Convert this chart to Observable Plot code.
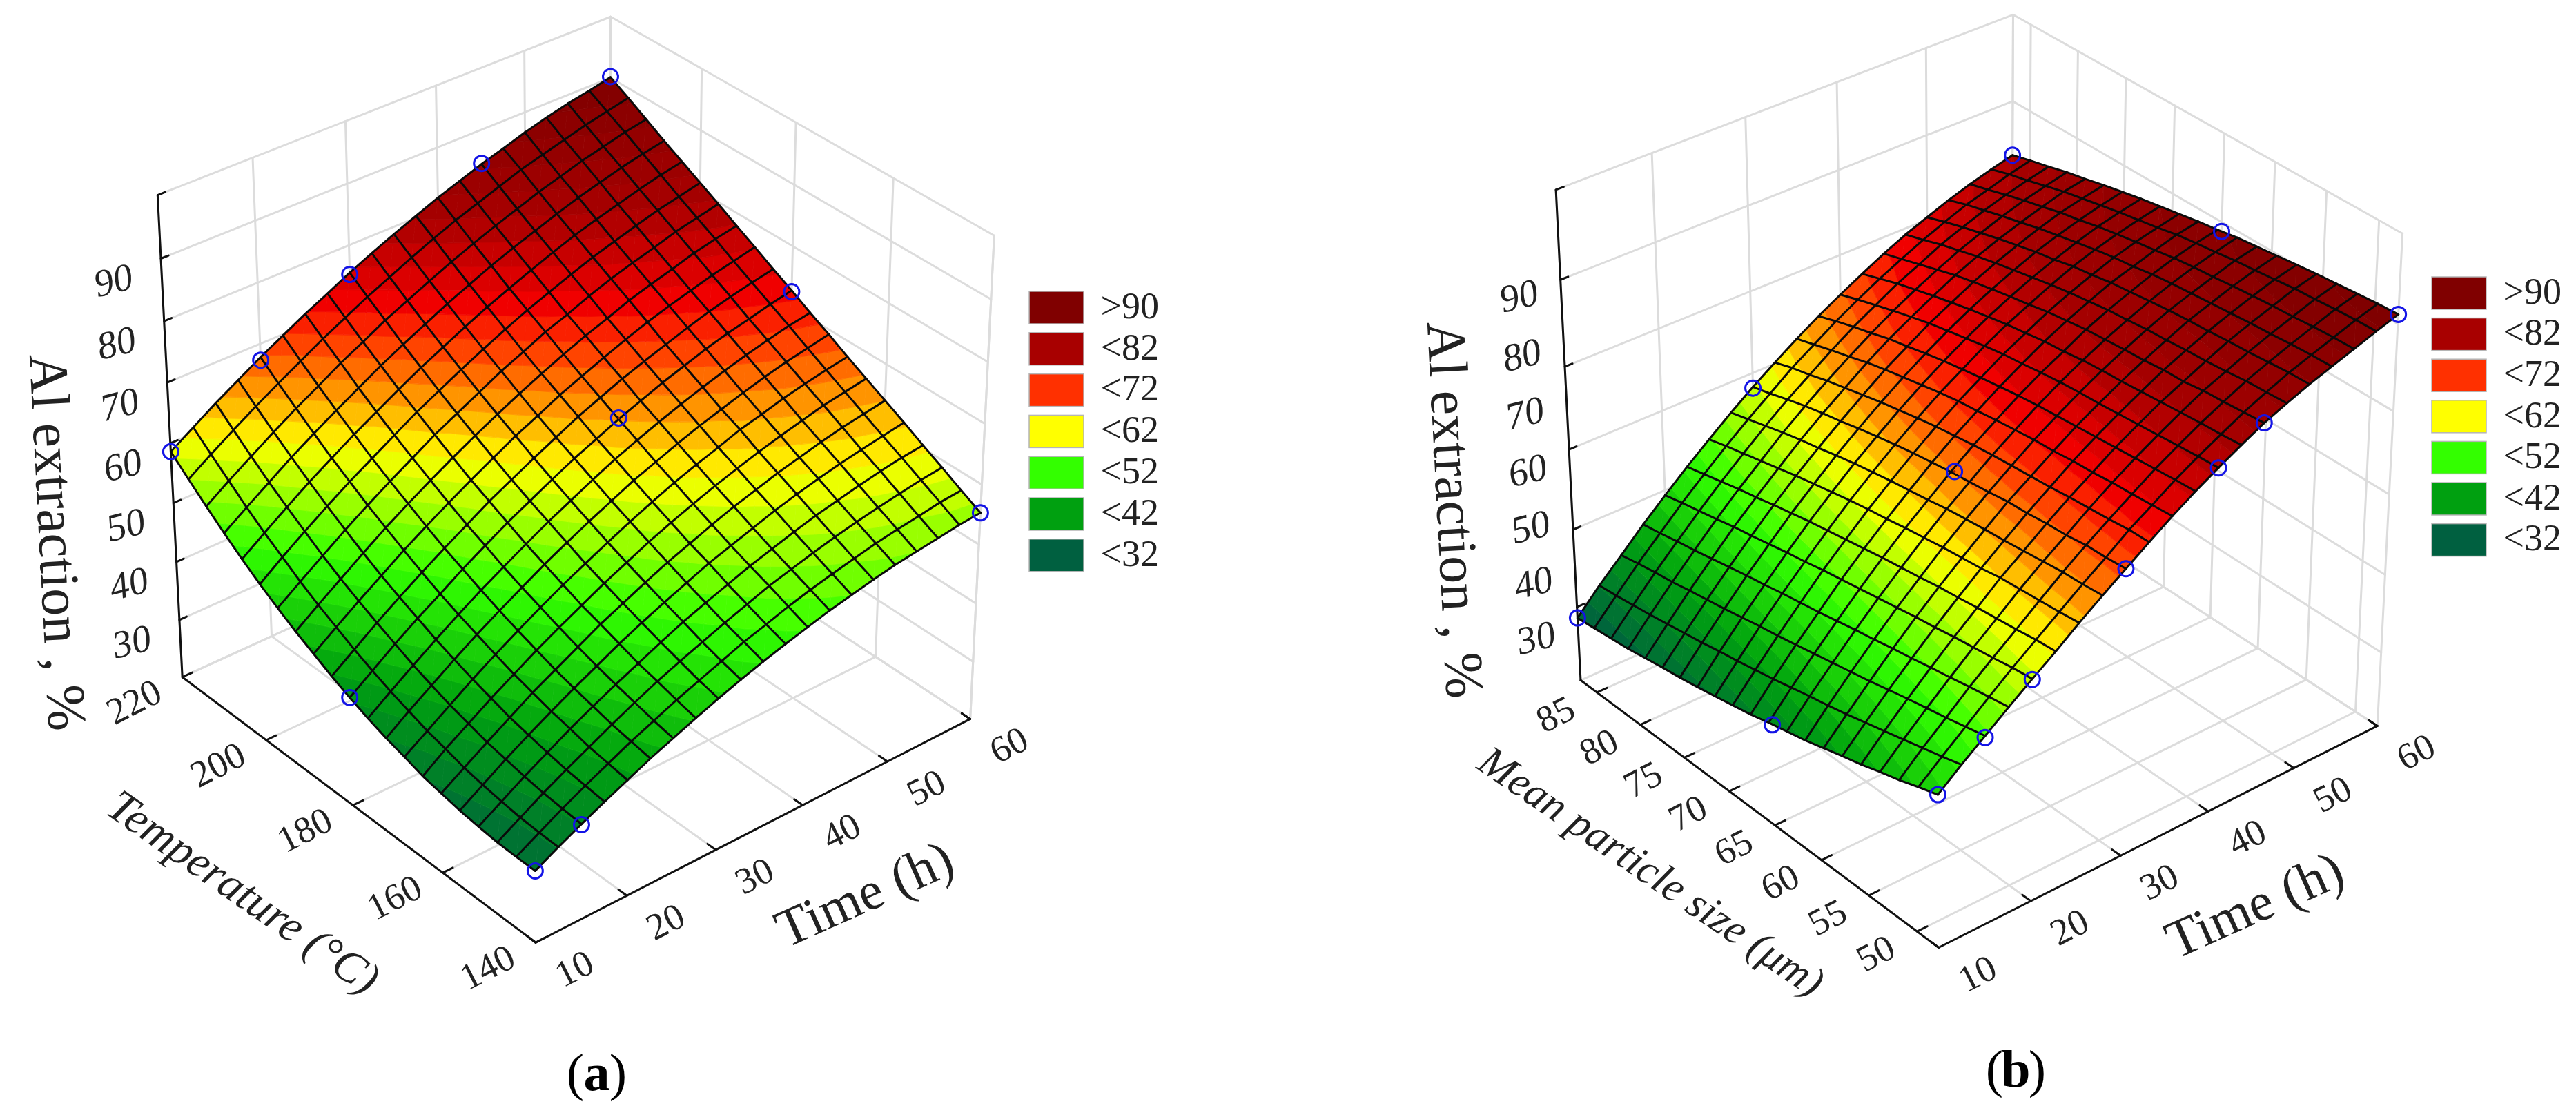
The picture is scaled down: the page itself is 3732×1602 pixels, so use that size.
<!DOCTYPE html>
<html>
<head>
<meta charset="utf-8">
<script src="https://cdn.jsdelivr.net/npm/d3@7"></script>
<script src="https://cdn.jsdelivr.net/npm/@observablehq/plot@0.6"></script>
<style>html,body{margin:0;padding:0;background:#fff}svg{display:block;max-width:none}</style>
</head>
<body>
<div id="chart"></div>
<script>
// ---------- values ----------
const timeTicks = [10, 20, 30, 40, 50, 60];
const temperatureTicks = [140, 160, 180, 200, 220];
const particleTicks = [50, 55, 60, 65, 70, 75, 80, 85];
const extractionTicksA = [30, 40, 50, 60, 70, 80, 90];
const extractionGridA = [30, 40, 50, 60, 70, 80, 90];
const extractionTicksB = [30, 40, 50, 60, 70, 80, 90];
const extractionGridB = [32, 46, 60.2, 74.6, 89.4];
const legendLabels = [">90", "<82", "<72", "<62", "<52", "<42", "<32"];
const legendColors = ["#800000", "#a80000", "#ff3000", "#ffff00", "#33ff00", "#00a010", "#006040"];

// surface (a): one row per time step (10..60 h), one value per temperature step (140..220 C)
const surfaceA = [
[32.1,32.1,32.2,32.5,32.9,33.5,34.1,35.1,36.0,37.1,38.4,39.8,41.4,43.0,44.8,46.7,48.8,51.1,53.5,56.0,58.6],
[34.1,34.2,34.4,34.8,35.3,35.9,36.8,37.6,38.7,39.8,41.1,42.5,44.1,45.7,47.5,49.5,51.5,53.7,56.1,58.5,61.0],
[36.0,36.3,36.6,37.1,37.7,38.3,39.2,40.1,41.2,42.4,43.8,45.2,46.7,48.3,50.1,52.1,54.1,56.2,58.5,60.9,63.4],
[37.8,38.2,38.6,39.2,39.9,40.6,41.6,42.6,43.7,44.9,46.3,47.7,49.2,50.9,52.7,54.6,56.6,58.7,60.9,63.2,65.6],
[39.5,40.0,40.5,41.3,42.0,42.9,43.8,44.9,46.1,47.3,48.6,50.1,51.7,53.4,55.1,57.0,58.9,61.0,63.2,65.4,67.8],
[41.2,41.8,42.4,43.2,44.0,44.9,46.0,47.1,48.3,49.6,51.0,52.4,54.0,55.7,57.4,59.2,61.2,63.2,65.3,67.5,69.8],
[42.7,43.4,44.2,45.0,45.9,46.9,48.0,49.2,50.4,51.7,53.2,54.6,56.2,57.9,59.6,61.4,63.3,65.3,67.5,69.6,71.8],
[44.2,45.0,45.9,46.7,47.8,48.9,49.9,51.2,52.5,53.8,55.3,56.8,58.3,60.0,61.8,63.6,65.4,67.4,69.4,71.5,73.6],
[45.6,46.4,47.4,48.4,49.5,50.6,51.8,53.0,54.4,55.8,57.2,58.7,60.3,62.0,63.7,65.5,67.4,69.3,71.4,73.4,75.5],
[46.9,47.8,48.8,50.0,51.1,52.3,53.5,54.8,56.2,57.6,59.1,60.6,62.3,63.9,65.6,67.4,69.2,71.1,73.1,75.1,77.2],
[48.1,49.2,50.2,51.4,52.6,53.9,55.2,56.5,57.9,59.4,60.9,62.4,64.0,65.7,67.5,69.2,71.0,72.9,74.8,76.8,78.8],
[49.2,50.3,51.5,52.7,54.1,55.3,56.7,58.1,59.6,61.1,62.5,64.2,65.8,67.4,69.1,70.9,72.7,74.5,76.4,78.4,80.3],
[50.2,51.5,52.8,54.0,55.3,56.7,58.1,59.6,61.0,62.6,64.1,65.7,67.3,69.0,70.8,72.5,74.2,76.1,77.9,79.9,81.8],
[51.2,52.5,53.8,55.1,56.5,58.0,59.4,60.9,62.4,64.0,65.5,67.2,68.8,70.5,72.1,73.9,75.7,77.5,79.3,81.2,83.1],
[52.0,53.4,54.8,56.2,57.7,59.1,60.6,62.1,63.7,65.3,66.9,68.5,70.2,71.8,73.6,75.3,77.1,78.8,80.6,82.5,84.4],
[52.8,54.2,55.7,57.2,58.7,60.2,61.7,63.4,64.8,66.5,68.1,69.7,71.5,73.2,74.9,76.6,78.4,80.1,81.9,83.8,85.5],
[53.5,55.0,56.5,58.0,59.6,61.1,62.7,64.3,65.9,67.6,69.3,70.9,72.6,74.3,76.0,77.7,79.5,81.3,83.0,84.8,86.7],
[54.0,55.6,57.2,58.8,60.4,62.0,63.6,65.3,66.9,68.6,70.3,72.0,73.6,75.3,77.0,78.8,80.5,82.3,84.1,85.8,87.7],
[54.5,56.1,57.8,59.5,61.1,62.8,64.5,66.1,67.8,69.5,71.1,72.9,74.6,76.4,78.1,79.8,81.5,83.3,85.0,86.8,88.6],
[55.0,56.7,58.4,60.1,61.7,63.4,65.1,66.8,68.5,70.3,72.0,73.7,75.4,77.2,78.9,80.6,82.4,84.1,85.9,87.6,89.3],
[55.3,57.0,58.8,60.5,62.3,64.0,65.7,67.4,69.2,70.9,72.7,74.4,76.2,77.9,79.7,81.4,83.1,84.8,86.6,88.4,90.1]
];

// surface (b): one row per time step (10..60 h), one value per particle-size step (48..87 um)
const surfaceB = [
[45.4,44.3,43.1,42.1,41.0,40.1,39.1,38.1,37.3,36.5,35.6,34.9,34.2,33.5,32.9,32.4,31.8,31.2,30.8,30.4,30.0],
[48.6,47.6,46.7,45.8,44.9,44.0,43.1,42.3,41.6,40.8,40.0,39.3,38.6,38.0,37.3,36.7,36.1,35.5,35.0,34.5,34.1],
[51.6,50.8,50.0,49.3,48.6,47.8,47.0,46.3,45.6,44.9,44.2,43.5,42.9,42.2,41.5,40.9,40.3,39.6,39.1,38.5,37.8],
[54.6,54.0,53.4,52.7,52.1,51.4,50.8,50.1,49.5,48.8,48.1,47.5,46.9,46.2,45.6,44.9,44.2,43.5,42.9,42.2,41.6],
[57.5,57.1,56.5,56.0,55.5,54.9,54.4,53.8,53.2,52.6,52.0,51.4,50.7,50.1,49.4,48.7,48.1,47.3,46.6,45.9,45.1],
[60.3,60.0,59.5,59.1,58.7,58.2,57.8,57.2,56.7,56.2,55.6,55.0,54.4,53.8,53.1,52.4,51.6,50.9,50.1,49.3,48.5],
[63.3,62.9,62.6,62.3,62.0,61.4,61.0,60.6,60.1,59.6,59.0,58.5,57.9,57.2,56.5,55.8,55.0,54.2,53.4,52.6,51.7],
[66.1,65.8,65.6,65.2,64.8,64.4,64.1,63.7,63.3,62.7,62.2,61.7,61.1,60.5,59.8,59.0,58.3,57.5,56.6,55.7,54.8],
[68.8,68.5,68.4,67.9,67.7,67.3,67.1,66.6,66.2,65.8,65.3,64.8,64.2,63.5,62.8,62.0,61.3,60.5,59.6,58.6,57.7],
[71.5,71.4,71.0,70.7,70.4,70.0,69.7,69.4,69.1,68.7,68.2,67.7,67.1,66.4,65.7,64.9,64.1,63.3,62.3,61.5,60.4],
[74.1,73.8,73.5,73.3,72.9,72.7,72.3,72.1,71.7,71.3,70.8,70.4,69.8,69.1,68.4,67.7,66.9,65.9,65.0,64.0,63.0],
[76.5,76.3,76.0,75.7,75.4,75.1,74.8,74.5,74.2,73.8,73.3,72.8,72.2,71.6,70.9,70.1,69.4,68.4,67.5,66.5,65.4],
[78.7,78.5,78.2,77.9,77.6,77.3,77.0,76.8,76.5,76.1,75.6,75.2,74.6,73.9,73.2,72.5,71.6,70.7,69.7,68.7,67.6],
[80.8,80.5,80.3,80.0,79.7,79.4,79.1,78.9,78.6,78.1,77.8,77.2,76.7,76.0,75.3,74.5,73.7,72.8,71.9,70.8,69.7],
[82.8,82.5,82.2,82.0,81.5,81.4,81.0,80.8,80.5,80.2,79.7,79.2,78.5,77.9,77.2,76.5,75.7,74.7,73.7,72.7,71.7],
[84.4,84.2,84.0,83.6,83.3,83.1,82.8,82.6,82.2,81.9,81.4,80.9,80.3,79.6,78.9,78.2,77.4,76.5,75.6,74.5,73.5],
[85.9,85.8,85.5,85.2,85.0,84.7,84.5,84.2,83.8,83.4,83.0,82.4,81.9,81.1,80.5,79.7,78.9,78.0,77.1,76.1,75.0],
[87.2,87.1,86.9,86.6,86.4,86.1,85.8,85.5,85.2,84.8,84.2,83.8,83.2,82.5,81.8,81.1,80.2,79.4,78.5,77.6,76.5],
[88.5,88.4,88.2,87.9,87.7,87.4,87.1,86.7,86.4,86.0,85.4,84.9,84.3,83.7,82.9,82.3,81.4,80.6,79.7,78.7,77.8],
[89.8,89.7,89.5,89.2,89.0,88.6,88.2,87.9,87.4,87.0,86.5,85.8,85.2,84.6,83.9,83.2,82.5,81.6,80.7,79.9,78.9],
[91.0,90.8,90.5,90.2,89.9,89.5,89.1,88.7,88.3,87.7,87.2,86.6,86.0,85.4,84.7,84.0,83.2,82.5,81.6,80.8,79.9]
];

// measured points (blue circles); the last one of each list is the centre point
const markerTimeA = [10, 20, 30, 45, 60, 60, 60, 10, 15, 10, 40];
const markerTempA = [220, 220, 220, 220, 220, 180, 140, 140, 140, 180, 180];
const markerZA = [58.6, 67.3, 75.2, 84.5, 90.2, 72.5, 55.3, 32.1, 35.9, 38.4, 64.3];
const markerTimeB = [10, 10, 10, 15, 20, 30, 40, 45, 60, 60, 60, 30, 30];
const markerSizeB = [86.9, 65, 47.8, 47.8, 47.8, 47.8, 47.8, 47.8, 47.8, 65, 86.9, 86.9, 65];
const markerZB = [30, 36.6, 45.4, 51.3, 57.4, 68.8, 78.7, 82.8, 91, 87.8, 79.9, 57.5, 66.3];

// ---------- colour ramp ----------
const rampStops = [30, 40, 50, 60, 64, 70, 73, 80, 90];
const rampColors = ["#006040", "#00a010", "#33ff00", "#ffff00", "#ffa800", "#ff3000", "#f00000", "#a80000", "#800000"];
const ramp = d3.scaleLinear().domain(rampStops).range(rampColors).clamp(true);
const bandStep = 2;
const bandEdges = d3.range(20, 108, bandStep);
const bandColors = [ramp(19), ...bandEdges.map(e => ramp(e + bandStep / 2))];

// ---------- camera: least-squares fit of the box perspective ----------
function fitCamera(anchors) {
  const cx = d3.mean(anchors, a => a[3]), cy = d3.mean(anchors, a => a[4]);
  const A = [], b = [];
  for (const [u, v, w, x0, y0] of anchors) {
    const x = (x0 - cx) / 1000, y = (y0 - cy) / 1000;
    A.push([u, v, w, 1, 0, 0, 0, 0, -x * u, -x * v, -x * w]); b.push(x);
    A.push([0, 0, 0, 0, u, v, w, 1, -y * u, -y * v, -y * w]); b.push(y);
  }
  const n = 11, M = [];
  for (let i = 0; i < n; i++) {
    M.push(new Array(n + 1).fill(0));
    for (let j = 0; j < n; j++) for (let r = 0; r < A.length; r++) M[i][j] += A[r][i] * A[r][j];
    for (let r = 0; r < A.length; r++) M[i][n] += A[r][i] * b[r];
  }
  for (let i = 0; i < n; i++) {
    let p = i;
    for (let r = i + 1; r < n; r++) if (Math.abs(M[r][i]) > Math.abs(M[p][i])) p = r;
    [M[i], M[p]] = [M[p], M[i]];
    for (let r = 0; r < n; r++) if (r !== i) {
      const f = M[r][i] / M[i][i];
      for (let c = i; c <= n; c++) M[r][c] -= f * M[i][c];
    }
  }
  const h = M.map((row, i) => row[n] / row[i]);
  return (u, v, w) => {
    const d = h[8] * u + h[9] * v + h[10] * w + 1;
    return [cx + 1000 * (h[0] * u + h[1] * v + h[2] * w + h[3]) / d,
            cy + 1000 * (h[4] * u + h[5] * v + h[6] * w + h[7]) / d];
  };
}

const cameraA = fitCamera([
  [0,0,0,775,1365],[1,0,0,1408,1045],[0,1,0,261.5,985],[1,1,0,883,690],[0,1,1,228,279],[1,1,1,883,25.5],[1,0,1,1442,337],
  [.2,0,0,904,1295],[.4,0,0,1033,1230],[.6,0,0,1160,1165],[.8,0,0,1283,1104],
  [0,.25,0,644,1263],[0,.5,0,517,1165],[0,.75,0,389,1075],
  [.2,1,1,365,229.6],[.4,1,1,501,176],[.6,1,1,631,125],[.8,1,1,759,76.5],
  [1,.75,1,1015,99.5],[1,.5,1,1153,177],[1,.25,1,1295,258],
  [0,1,.125,258,897],[0,1,.5,244,640],[0,1,.875,232,370]
]);
const cameraB = fitCamera([
  [0,0,0,2806.6,1375],[1,0,0,3446.4,1051],[0,1,0,2285.3,988],[1,1,0,2915,706],[0,1,1,2251.4,275.5],[1,1,1,2915,18],[1,0,1,3481,334],
  [.2,0,0,2937,1305],[.4,0,0,3067,1237],[.6,0,0,3194,1175],[.8,0,0,3322,1109],
  [0,.056,0,2783.6,1350],[0,.44,0,2577,1196],[0,.951,0,2315.7,1004.6],
  [.2,1,1,2393,224.5],[.4,1,1,2527,172.4],[.6,1,1,2660,121],[.8,1,1,2789,70],
  [1,.056,1,3449,321.4],[1,.44,1,3223.6,194],[1,.951,1,2941,36.7],
  [0,1,.825,2261,400],[0,1,.482,2274.4,642]
]);

// ---------- panel builder ----------
function clipBand(tri, lo, hi) {
  const cut = (poly, keep, level) => {
    const out = [];
    poly.forEach((p, i) => {
      const q = poly[(i + 1) % poly.length];
      if (keep(p[2])) out.push(p);
      if (keep(p[2]) !== keep(q[2])) {
        const t = (level - p[2]) / (q[2] - p[2]);
        out.push([p[0] + t * (q[0] - p[0]), p[1] + t * (q[1] - p[1]), level]);
      }
    });
    return out;
  };
  let poly = cut(tri, z => z >= lo, lo);
  if (poly.length) poly = cut(poly, z => z <= hi, hi);
  return poly;
}

function panel(cfg) {
  const {camera, surface, U, V, W, vTicks, uTicks, zGrid, zTicks} = cfg;
  const cells = [], mesh = [], grid = [], axes = [];
  let id = 0;
  const nu = surface.length - 1, nv = surface[0].length - 1;
  const wz = z => W(z);
  const addCell = (tri) => {
    const zs = tri.map(p => p[2]);
    const zMin = d3.min(zs), zMax = d3.max(zs);
    const edges = [-1000, ...bandEdges, 1000];
    for (let k = 0; k < edges.length - 1; k++) {
      if (edges[k + 1] < zMin || edges[k] > zMax) continue;
      const poly = clipBand(tri, edges[k], edges[k + 1]);
      if (poly.length < 3) continue;
      const c = (Math.max(edges[k], 18) + Math.min(edges[k + 1], 110)) / 2;
      id++;
      for (const p of poly) {
        const [x, y] = camera(p[0], p[1], wz(p[2]));
        cells.push({x, y, id, c});
      }
    }
  };
  for (let i = 0; i < nu; i++) for (let j = 0; j < nv; j++) {
    const P = (a, b) => [a / nu, b / nv, surface[a][b]];
    addCell([P(i, j), P(i + 1, j), P(i + 1, j + 1)]);
    addCell([P(i, j), P(i + 1, j + 1), P(i, j + 1)]);
  }
  for (let i = 0; i <= nu; i++) {
    id++;
    for (let j = 0; j <= nv; j++) { const [x, y] = camera(i / nu, j / nv, wz(surface[i][j])); mesh.push({x, y, id}); }
  }
  for (let j = 0; j <= nv; j++) {
    id++;
    for (let i = 0; i <= nu; i++) { const [x, y] = camera(i / nu, j / nv, wz(surface[i][j])); mesh.push({x, y, id}); }
  }
  const seg = (arr, a, b) => { id++; for (const p of [a, b]) { const [x, y] = camera(...p); arr.push({x, y, id}); } };
  // walls and floor
  for (const t of uTicks) { const u = U(t); seg(grid, [u, 1, 0], [u, 1, 1]); seg(grid, [u, 0, 0], [u, 1, 0]); }
  for (const t of vTicks) { const v = V(t); seg(grid, [1, v, 0], [1, v, 1]); seg(grid, [0, v, 0], [1, v, 0]); }
  for (const z of zGrid) { const w = W(z); seg(grid, [0, 1, w], [1, 1, w]); seg(grid, [1, 0, w], [1, 1, w]); }
  seg(grid, [0, 1, 1], [1, 1, 1]); seg(grid, [1, 1, 1], [1, 0, 1]); seg(grid, [1, 0, 1], [1, 0, 0]);
  seg(grid, [1, 1, 0], [1, 1, 1]); seg(grid, [0, 1, 0], [1, 1, 0]); seg(grid, [1, 0, 0], [1, 1, 0]);
  // axes and ticks
  seg(axes, [0, 1, 0], [0, 1, 1]); seg(axes, [0, 0, 0], [0, 1, 0]); seg(axes, [0, 0, 0], [1, 0, 0]);
  for (const t of uTicks) { const u = U(t); seg(axes, [u, 0, 0], [u, .022, 0]); }
  for (const t of vTicks) { const v = V(t); seg(axes, [0, v, 0], [.022, v, 0]); }
  for (const z of zGrid) { const w = W(z); seg(axes, [0, 1, w], [.016, 1, w]); }
  seg(axes, [0, 1, 1], [.016, 1, 1]);
  seg(axes, [1, 0, 0], [1, .022, 0]);

  const lab = (vals, fn) => vals.map(t => { const [x, y] = fn(t); return {x, y, t}; });
  const font = "Liberation Serif", ink = "#222";
  const markerRows = cfg.markers.map(m => { const [x, y] = camera(m[0], m[1], wz(m[2])); return {x, y}; });
  const legend = legendLabels.map((t, i) => ({
    t, fill: legendColors[i],
    x1: cfg.legend.x, x2: cfg.legend.x + 79,
    y1: cfg.legend.y + i * cfg.legend.pitch, y2: cfg.legend.y + i * cfg.legend.pitch + 47,
    xt: cfg.legend.x + 103, yt: cfg.legend.y + i * cfg.legend.pitch + 21
  }));
  return [
    Plot.line(grid, {x: "x", y: "y", z: "id", stroke: "#dcdcdc", strokeWidth: 3}),
    Plot.line(axes, {x: "x", y: "y", z: "id", stroke: "#111", strokeWidth: 3}),
    Plot.line(cells, {x: "x", y: "y", z: "id", fill: "c", stroke: "c", strokeWidth: 0.8, curve: "linear-closed"}),
    Plot.line(mesh, {x: "x", y: "y", z: "id", stroke: "#0a0a0a", strokeWidth: 3}),
    Plot.dot(markerRows, {x: "x", y: "y", r: 11, stroke: "#1414e6", strokeWidth: 3, fill: "none"}),
    Plot.dot(markerRows.slice(-1), {x: "x", y: "y", r: 1.8, fill: "#a02000"}),
    Plot.text(lab(zTicks, z => camera(0, 1, W(z))), {x: "x", y: "y", text: d => String(d.t), dx: cfg.zLabel[0], dy: cfg.zLabel[1], rotate: -14, fontSize: 56, fontStyle: "italic", fontFamily: font, fill: ink}),
    Plot.text(lab(uTicks, t => camera(U(t), 0, 0)), {x: "x", y: "y", text: d => String(d.t), dx: 56, dy: 38, rotate: -27, fontSize: 54, fontFamily: font, fill: ink}),
    Plot.text(lab(vTicks, t => camera(0, V(t), 0)), {x: "x", y: "y", text: d => String(d.t), dx: cfg.vLabel[0], dy: cfg.vLabel[1], rotate: -27, fontSize: 54, fontFamily: font, fill: ink}),
    ...cfg.titles.map(s => Plot.text([s], {x: "x", y: "y", text: "t", rotate: s.r, fontSize: s.s, fontStyle: s.i ? "italic" : "normal", fontFamily: font, fill: ink})),
    Plot.rect(legend, {x1: "x1", x2: "x2", y1: "y1", y2: "y2", fill: "fill", stroke: "#b5b5b5", strokeWidth: 1.5}),
    Plot.text(legend, {x: "xt", y: "yt", text: "t", textAnchor: "start", fontSize: 54, fontFamily: font, fill: ink}),
    Plot.text([{x: cfg.tag.x - 31, y: cfg.tag.y}], {x: "x", y: "y", text: () => "(", fontSize: 76, fontFamily: font, fill: "#000"}),
    Plot.text([{x: cfg.tag.x, y: cfg.tag.y}], {x: "x", y: "y", text: () => cfg.tag.t, fontSize: 76, fontWeight: "bold", fontFamily: font, fill: "#000"}),
    Plot.text([{x: cfg.tag.x + 31, y: cfg.tag.y}], {x: "x", y: "y", text: () => ")", fontSize: 76, fontFamily: font, fill: "#000"})
  ];
}

const marksA = panel({
  camera: cameraA, surface: surfaceA,
  U: t => (t - 10) / 50, V: t => (t - 140) / 80, W: z => (z - 20) / 80,
  uTicks: timeTicks, vTicks: temperatureTicks, zGrid: extractionGridA, zTicks: extractionTicksA,
  markers: markerTimeA.map((t, i) => [(t - 10) / 50, (markerTempA[i] - 140) / 80, markerZA[i]]),
  zLabel: [-69, 32], vLabel: [-70, 36],
  legend: {x: 1491, y: 422, pitch: 59.8},
  tag: {x: 864, y: 1554, t: "a"},
  titles: [
    {x: 82, y: 785, t: "Al extraction , %", r: 87, s: 80},
    {x: 352, y: 1292, t: "Temperature (°C)", r: 35, s: 66, i: true},
    {x: 1252, y: 1295, t: "Time (h)", r: -24, s: 78}
  ]
});
const marksB = panel({
  camera: cameraB, surface: surfaceB,
  U: t => (t - 10) / 50, V: p => (p - 47.8) / 39.1, W: z => (z - 18.5) / 85.9,
  uTicks: timeTicks, vTicks: particleTicks, zGrid: extractionGridB, zTicks: extractionTicksB,
  markers: markerTimeB.map((t, i) => [(t - 10) / 50, (markerSizeB[i] - 47.8) / 39.1, markerZB[i]]),
  zLabel: [-60, 29], vLabel: [-60, 32],
  legend: {x: 3523, y: 401, pitch: 59.6},
  tag: {x: 2920, y: 1549, t: "b"},
  titles: [
    {x: 2107, y: 738, t: "Al extraction , %", r: 87, s: 80},
    {x: 2392, y: 1262, t: "Mean particle size (μm)", r: 34.4, s: 62, i: true},
    {x: 3266, y: 1311, t: "Time (h)", r: -24, s: 78}
  ]
});

const chart = Plot.plot({
  width: 3732, height: 1602,
  marginLeft: 0, marginRight: 0, marginTop: 0, marginBottom: 0,
  x: {axis: null, domain: [0, 3732], range: [0, 3732]},
  y: {axis: null, domain: [0, 1602], range: [0, 1602]},
  color: {type: "threshold", domain: bandEdges, range: bandColors},
  style: {background: "#fff"},
  marks: [...marksA, ...marksB]
});
document.getElementById("chart").appendChild(chart);
</script>
</body>
</html>
